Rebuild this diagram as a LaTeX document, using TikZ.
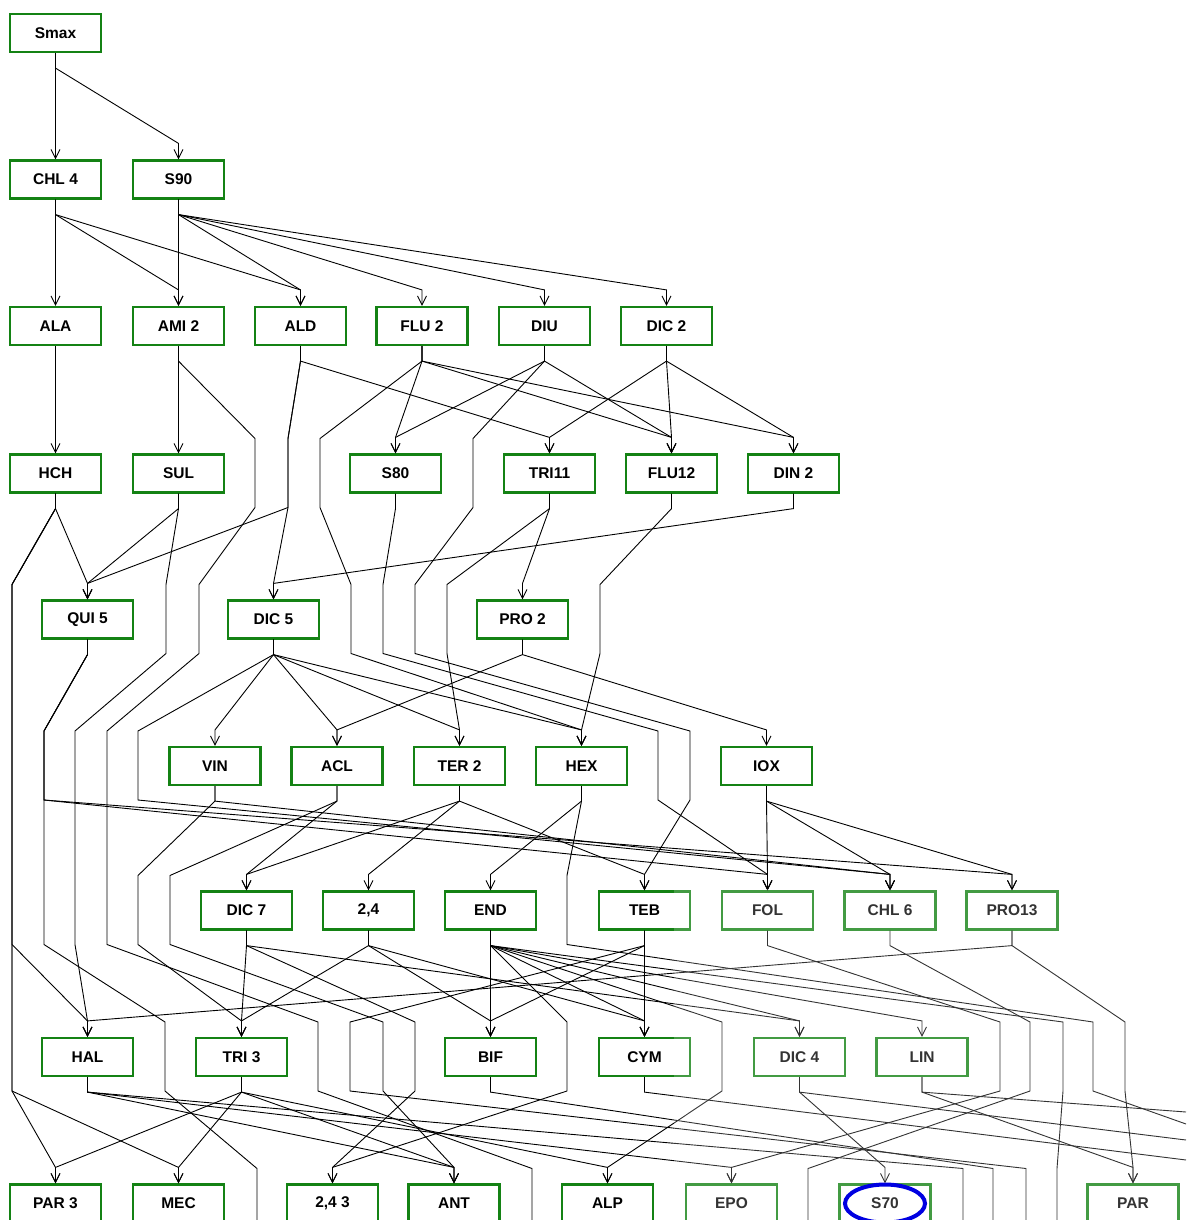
\documentclass[tikz,border=0pt]{standalone}
\usepackage{fontspec}
\setmainfont{Liberation Sans}
\usetikzlibrary{arrows.meta}
\definecolor{boxgreen}{RGB}{20,130,20}
\definecolor{markblue}{RGB}{0,0,225}
\tikzset{
  gblk/.style={draw=boxgreen, fill=white, line width=2.2pt, minimum width=91pt,
               minimum height=38pt, inner sep=0pt, font=\bfseries\fontsize{15.5}{18}\selectfont},
  garr/.style={-{Straight Barb[length=9pt,width=9pt]}, line width=0.9pt},
  gpass/.style={line width=0.9pt},
}
% edge: out of #2, optional bends #1, into #3
\newcommand\ed[3][]{\draw[garr] (#2.south) -- (#2-o) #1 -- (#3-i) -- (#3.north);}

\begin{document}
\begin{tikzpicture}[x=1pt,y=-1pt]
  \useasboundingbox (0,0) rectangle (1186,1220);
  \fill[white] (0,0) rectangle (1186,1220);
  \clip (0,0) rectangle (1186,1220);

  % rows of the ranking
  \node[gblk] (smax) at (55.5,33) {Smax};
  \node[gblk] (chl4) at (55.5,179.5) {CHL 4};
  \node[gblk] (s90) at (178.5,179.5) {S90};
  \node[gblk] (ala) at (55.5,326) {ALA};
  \node[gblk] (ami2) at (178.5,326) {AMI 2};
  \node[gblk] (ald) at (300.5,326) {ALD};
  \node[gblk] (flu2) at (422,326) {FLU 2};
  \node[gblk] (diu) at (544.5,326) {DIU};
  \node[gblk] (dic2) at (666.5,326) {DIC 2};
  \node[gblk] (hch) at (55.5,473.5) {HCH};
  \node[gblk] (sul) at (178.5,473.5) {SUL};
  \node[gblk] (s80) at (395.5,473.5) {S80};
  \node[gblk] (tri11) at (549.5,473.5) {TRI11};
  \node[gblk] (flu12) at (671.5,473.5) {FLU12};
  \node[gblk] (din2) at (793.5,473.5) {DIN 2};
  \node[gblk] (qui5) at (87.5,619.5) {QUI 5};
  \node[gblk] (dic5) at (273.5,619.5) {DIC 5};
  \node[gblk] (pro2) at (522.5,619.5) {PRO 2};
  \node[gblk] (vin) at (215,766) {VIN};
  \node[gblk] (acl) at (337,766) {ACL};
  \node[gblk] (ter2) at (459.5,766) {TER 2};
  \node[gblk] (hex) at (581.5,766) {HEX};
  \node[gblk] (iox) at (766.5,766) {IOX};
  \node[gblk] (dic7) at (246.5,910.5) {DIC 7};
  \node[gblk] (two4) at (368.5,910.5) {2,4};
  \node[gblk] (end) at (490.5,910.5) {END};
  \node[gblk] (teb) at (644.5,910.5) {TEB};
  \node[gblk] (fol) at (767.5,910.5) {FOL};
  \node[gblk] (chl6) at (890,910.5) {CHL 6};
  \node[gblk] (pro13) at (1012,910.5) {PRO13};
  \node[gblk] (hal) at (87.5,1057) {HAL};
  \node[gblk] (tri3) at (241.5,1057) {TRI 3};
  \node[gblk] (bif) at (490.5,1057) {BIF};
  \node[gblk] (cym) at (644.5,1057) {CYM};
  \node[gblk] (dic4) at (799.5,1057) {DIC 4};
  \node[gblk] (lin) at (922,1057) {LIN};
  \node[gblk] (par3) at (55.5,1203.5) {PAR 3};
  \node[gblk] (mec) at (178.5,1203.5) {MEC};
  \node[gblk] (two43) at (332.5,1203.5) {2,4 3};
  \node[gblk] (ant) at (454,1203.5) {ANT};
  \node[gblk] (alp) at (607.5,1203.5) {ALP};
  \node[gblk] (epo) at (731.5,1203.5) {EPO};
  \node[gblk] (s70) at (885,1203.5) {S70};
  \node[gblk] (par) at (1133,1203.5) {PAR};

  \foreach \n in {smax,chl4,s90,ala,ami2,ald,flu2,diu,dic2,hch,sul,s80,tri11,flu12,din2,
                  qui5,dic5,pro2,vin,acl,ter2,hex,iox,dic7,two4,end,teb,fol,chl6,pro13,
                  hal,tri3,bif,cym,dic4,lin,par3,mec,two43,ant,alp,epo,s70,par}{
    \coordinate (\n-o) at ([yshift=-15pt]\n.south);
    \coordinate (\n-i) at ([yshift=16pt]\n.north);
  }

  \ed{smax}{chl4} \ed{smax}{s90}
  \ed{chl4}{ala} \ed{chl4}{ami2} \ed{chl4}{ald}
  \ed{s90}{ami2} \ed{s90}{ald} \ed{s90}{flu2} \ed{s90}{diu} \ed{s90}{dic2}

  \ed{ala}{hch} \ed{ami2}{sul}
  \draw[gpass] (ami2.south) -- (ami2-o) -- (255,438.5) -- (255,507.5) -- (199,584.5) -- (199,653.5)
      -- (107,731) -- (107,944.5) -- (318,1022) -- (318,1091) -- (532,1168.5) -- (532,1230);
  \ed[-- (288,438.5) -- (288,507.5)]{ald}{qui5}
  \ed[-- (288,438.5) -- (288,507.5)]{ald}{dic5}
  \ed{ald}{tri11}
  \ed[-- (320,438.5) -- (320,507.5) -- (351,584.5) -- (351,653.5)]{flu2}{hex}
  \ed{flu2}{s80} \ed{flu2}{flu12} \ed{flu2}{din2}
  \ed{diu}{s80} \ed{diu}{flu12}
  \ed[-- (473,438.5) -- (473,507.5) -- (415,584.5) -- (415,653.5) -- (690,731) -- (690,800)]{diu}{teb}
  \ed{dic2}{tri11} \ed{dic2}{flu12} \ed{dic2}{din2}

  \ed{hch}{qui5}
  \ed[-- (12,584.5) -- (12,1091)]{hch}{par3}
  \ed[-- (12,584.5) -- (12,1091)]{hch}{mec}
  \ed[-- (12,584.5) -- (12,944.5)]{hch}{hal}
  \ed{sul}{qui5}
  \ed[-- (166,584.5) -- (166,653.5) -- (75,731) -- (75,944.5)]{sul}{hal}
  \ed[-- (383,584.5) -- (383,653.5) -- (658,731) -- (658,800)]{s80}{fol}
  \ed{tri11}{pro2}
  \ed[-- (447,584.5) -- (447,653.5)]{tri11}{ter2}
  \ed[-- (600,584.5) -- (600,653.5)]{flu12}{hex}
  \ed{din2}{dic5}

  \draw[gpass] (qui5.south) -- (qui5-o) -- (44,731) -- (44,944.5) -- (165,1022) -- (165,1091)
      -- (257,1168.5) -- (257,1230);
  \ed[-- (44,731) -- (44,800)]{qui5}{fol}
  \ed[-- (44,731) -- (44,800)]{qui5}{pro13}
  \ed{dic5}{vin} \ed{dic5}{acl} \ed{dic5}{ter2} \ed{dic5}{hex}
  \ed[-- (138,731) -- (138,800)]{dic5}{chl6}
  \ed{pro2}{acl} \ed{pro2}{iox}

  \ed[-- (138,875.5) -- (138,944.5)]{vin}{tri3}
  \ed{vin}{chl6}
  \ed{acl}{dic7}
  \ed[-- (170,875.5) -- (170,944.5) -- (383,1022) -- (383,1091)]{acl}{ant}
  \ed{ter2}{dic7} \ed{ter2}{two4} \ed{ter2}{teb}
  \ed{hex}{end}
  \draw[gpass] (hex.south) -- (hex-o) -- (567,875.5) -- (567,944.5) -- (1093,1022) -- (1093,1091)
      -- (1186,1124);
  \ed{iox}{fol} \ed{iox}{chl6} \ed{iox}{pro13}

  \ed{dic7}{tri3}
  \ed[-- (415,1022) -- (415,1091)]{dic7}{two43}
  \ed{dic7}{dic4}
  \ed{two4}{tri3} \ed{two4}{bif} \ed{two4}{cym}
  \ed{end}{bif} \ed{end}{cym} \ed{end}{dic4} \ed{end}{lin}
  \ed[-- (567,1022) -- (567,1091)]{end}{two43}
  \ed[-- (722,1022) -- (722,1091)]{end}{alp}
  \draw[gpass] (end.south) -- (end-o) -- (1063,1022) -- (1063,1091) -- (1057,1168.5) -- (1057,1230);
  \ed{teb}{cym} \ed{teb}{bif}
  \draw[gpass] (teb.south) -- (teb-o) -- (350,1022) -- (350,1091) -- (1026,1168.5) -- (1026,1230);
  \ed[-- (1000,1022) -- (1000,1091)]{fol}{epo}
  \draw[gpass] (chl6.south) -- (chl6-o) -- (1030,1022) -- (1030,1091) -- (808,1168.5) -- (808,1230);
  \ed{pro13}{hal}
  \ed[-- (1125,1022) -- (1125,1091)]{pro13}{par}

  \ed{hal}{ant} \ed{hal}{epo}
  \draw[gpass] (hal.south) -- (hal-o) -- (963,1168.5) -- (963,1230);
  \ed{tri3}{par3} \ed{tri3}{mec} \ed{tri3}{alp} \ed{tri3}{ant}
  \draw[gpass] (bif.south) -- (bif-o) -- (993,1168.5) -- (993,1230);
  \draw[gpass] (cym.south) -- (cym-o) -- (1186,1160);
  \ed{dic4}{s70}
  \draw[gpass] (dic4.south) -- (dic4-o) -- (1186,1140);
  \ed{lin}{par}
  \draw[gpass] (lin.south) -- (lin-o) -- (1186,1112);

  % lighter lower right corner of the screenshot
  \fill[white, opacity=0.2] (674,889) rectangle (1186,1220);
  \draw[markblue, line width=4pt] (s70) ellipse (40pt and 19pt);
\end{tikzpicture}
\end{document}
